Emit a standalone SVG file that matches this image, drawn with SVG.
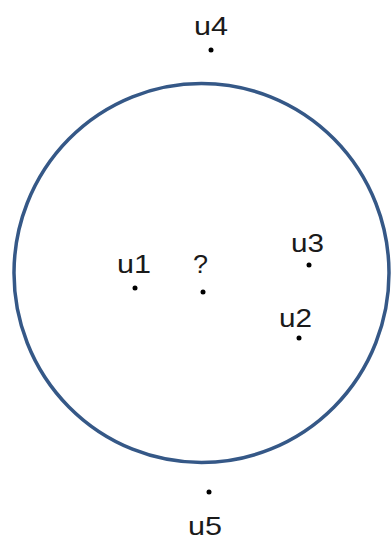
<svg xmlns="http://www.w3.org/2000/svg" width="391" height="541" viewBox="0 0 391 541">
<style>
.lbl{font-family:"Liberation Sans",Arial,sans-serif;font-size:26px;fill:#1a1a1a}
.dot{fill:#000}
</style>
<rect width="391" height="541" fill="#fff"/>
<g id="circle"><ellipse cx="201.5" cy="273" rx="187.5" ry="189.5" fill="none" stroke="#355887" stroke-width="3.5"/></g>
<g id="u4"><text class="lbl" x="194" y="35" textLength="34" lengthAdjust="spacingAndGlyphs">u4</text><circle class="dot" cx="211" cy="50" r="2.5"/></g>
<g id="u1"><text class="lbl" x="117" y="273" textLength="34" lengthAdjust="spacingAndGlyphs">u1</text><circle class="dot" cx="135" cy="288" r="2.5"/></g>
<g id="q"><text class="lbl" x="193" y="273" textLength="15" lengthAdjust="spacingAndGlyphs">?</text><circle class="dot" cx="203" cy="292" r="2.5"/></g>
<g id="u3"><text class="lbl" x="291" y="252" textLength="33" lengthAdjust="spacingAndGlyphs">u3</text><circle class="dot" cx="309" cy="265" r="2.5"/></g>
<g id="u2"><text class="lbl" x="279" y="327" textLength="33" lengthAdjust="spacingAndGlyphs">u2</text><circle class="dot" cx="299" cy="338" r="2.5"/></g>
<g id="u5"><text class="lbl" x="188" y="535" textLength="34" lengthAdjust="spacingAndGlyphs">u5</text><circle class="dot" cx="209" cy="492" r="2.5"/></g>
<g id="connectors"></g>
</svg>
